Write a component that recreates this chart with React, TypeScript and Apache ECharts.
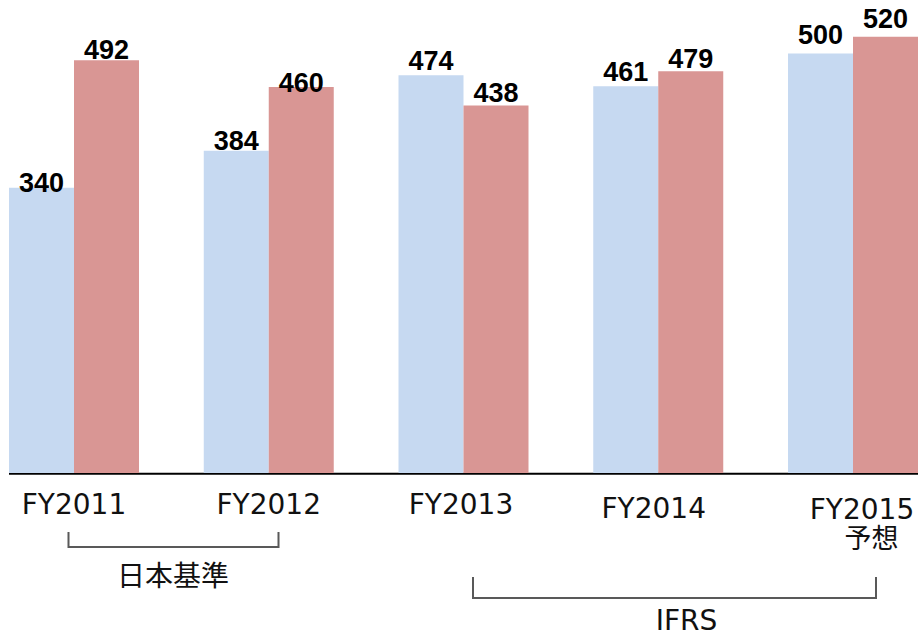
import React, { useEffect, useRef } from "react";
import * as echarts from "echarts";

const categories = ["FY2011", "FY2012", "FY2013", "FY2014", "FY2015"];
const subLabels = ["", "", "", "", "予想"];
const seriesBlue = [340, 384, 474, 461, 500];
const seriesRed = [492, 460, 438, 479, 520];
const groupNotes = ["日本基準", "IFRS"];

// label nudges (styling only)
const liftBlue = [8.5, 3.8, -0.5, -0.5, -5.5];
const liftRed = [2.8, 9.5, 0.5, 1.5, -4.5];
const catPad = [
  [0, 0, 0, 0],
  [0, 0, 0, 0],
  [0, 5, 0, 0],
  [8, 9, 0, 0],
  [10, 0, 0, 18],
];

const LATIN = "'DejaVu Sans', 'Noto Sans CJK JP', sans-serif";

export default function App() {
  const ref = useRef<HTMLDivElement>(null);
  useEffect(() => {
    const chart = echarts.init(ref.current!, null, { renderer: "svg" });
    const rich: any = {};
    categories.forEach((c, i) => {
      rich["f" + i] = {
        fontSize: 28,
        lineHeight: 28,
        fontFamily: LATIN,
        color: "#111",
        padding: catPad[i],
      };
      rich["s" + i] = {
        fontSize: 27,
        lineHeight: 36,
        fontFamily: "'Noto Sans CJK JP', sans-serif",
        color: "#111",
        padding: [0, 0, 0, 37],
      };
    });
    const mk = (vals: number[], lifts: number[]) =>
      vals.map((v, i) => ({ value: v, label: { offset: [0, lifts[i]] } }));
    const labelStyle = {
      show: true,
      position: "top",
      distance: 0,
      fontFamily: "'Liberation Sans', Arial, sans-serif",
      fontWeight: "bold",
      fontSize: 27,
      color: "#000",
    };
    chart.setOption({
      animation: false,
      grid: { left: 74, right: 67, top: 3.2, height: 469.8 },
      xAxis: {
        type: "category",
        data: categories,
        boundaryGap: false,
        axisLine: { show: false },
        axisTick: { show: false },
        axisLabel: {
          interval: 0,
          margin: 17,
          formatter: (v: string, i: number) =>
            subLabels[i] ? `{f${i}|${v}}\n{s${i}|${subLabels[i]}}` : `{f${i}|${v}}`,
          rich,
        },
      },
      yAxis: { type: "value", min: 0, max: 560, show: false },
      series: [
        {
          type: "bar",
          data: mk(seriesBlue, liftBlue),
          barWidth: 65,
          barGap: "0%",
          clip: false,
          itemStyle: { color: "#C6D9F1" },
          label: labelStyle,
        },
        {
          type: "bar",
          data: mk(seriesRed, liftRed),
          barWidth: 65,
          barGap: "0%",
          clip: false,
          itemStyle: { color: "#D99694" },
          label: labelStyle,
        },
      ],
      graphic: [
        {
          type: "line",
          shape: { x1: 9, y1: 473.75, x2: 918, y2: 473.75 },
          style: { stroke: "#000", lineWidth: 2 },
        },
        {
          type: "polyline",
          shape: { points: [[68.5, 532], [68.5, 547], [278.5, 547], [278.5, 532]] },
          style: { stroke: "#595959", lineWidth: 2, fill: null },
        },
        {
          type: "polyline",
          shape: { points: [[473, 577], [473, 598], [876, 598], [876, 577]] },
          style: { stroke: "#595959", lineWidth: 2, fill: null },
        },
        {
          type: "text",
          x: 173,
          y: 574,
          style: {
            text: groupNotes[0],
            fontSize: 28,
            fontFamily: "'Noto Sans CJK JP', sans-serif",
            fill: "#111",
            align: "center",
            verticalAlign: "middle",
          },
        },
        {
          type: "text",
          x: 686.5,
          y: 620,
          style: {
            text: groupNotes[1],
            fontSize: 28,
            fontFamily: LATIN,
            fill: "#111",
            align: "center",
            verticalAlign: "middle",
          },
        },
      ],
    });
    return () => chart.dispose();
  }, []);
  return (
    <div
      ref={ref}
      style={{ position: "fixed", left: 0, top: 0, width: 920, height: 635, background: "#fff" }}
    />
  );
}
